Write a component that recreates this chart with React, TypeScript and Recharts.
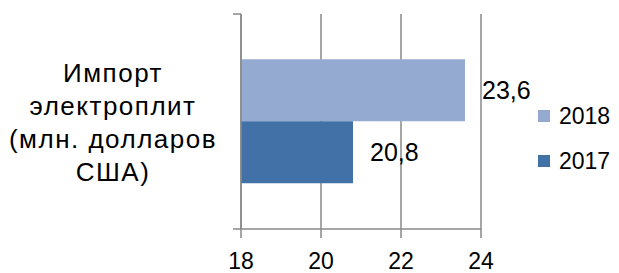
import React from 'react';
import { BarChart, Bar, XAxis, YAxis, CartesianGrid, Legend, LabelList } from 'recharts';

const categories = ['Импорт электроплит (млн. долларов США)'];
const categoryLines = [['Импорт', 'электроплит', '(млн. долларов', 'США)']];
const values2018 = [23.6];
const values2017 = [20.8];
const seriesNames = ['2018', '2017'];
const xTicks = [18, 20, 22, 24];
const xDomain = [18, 24];

const data = categories.map((name, i) => ({
  name,
  y2018: values2018[i],
  y2017: values2017[i],
}));

const LIGHT = '#95AAD0';
const DARK = '#4271A7';
const GRAY = '#888888';

const CategoryTick = (props: any) => {
  const { x, y, payload, index } = props;
  const lines = categoryLines[index] || [payload.value];
  const spacing = 33;
  const half = payload && payload.offset ? payload.offset : 0;
  return (
    <g>
      {half > 0 && (
        <g stroke={GRAY} strokeWidth={1.5}>
          <line x1={x} x2={x + 8} y1={y - half} y2={y - half} />
          <line x1={x} x2={x + 8} y1={y + half} y2={y + half} />
        </g>
      )}
      {lines.map((l: string, i: number) => (
        <text
          key={i}
          x={x - 120}
          y={y + 9.5 + (i - (lines.length - 1) / 2) * spacing}
          textAnchor="middle"
          fontFamily="Liberation Sans, Arial"
          fontSize={26}
          letterSpacing={1.5}
          fill="#000"
        >
          {l}
        </text>
      ))}
    </g>
  );
};

const LegendContent = (props: any) => {
  const payload = [...(props.payload || [])].sort(
    (a: any, b: any) => seriesNames.indexOf(a.value) - seriesNames.indexOf(b.value)
  );
  return (
    <div style={{ paddingLeft: 57, paddingTop: 4 }}>
      {payload.map((p: any, i: number) => (
        <div key={i} style={{ height: 45, display: 'flex', alignItems: 'center' }}>
          <span style={{ display: 'inline-block', width: 12, height: 12, background: p.color, marginRight: 9 }} />
          <span style={{ fontFamily: 'Liberation Sans, Arial', fontSize: 23, color: '#000', lineHeight: '23px' }}>{p.value}</span>
        </div>
      ))}
    </div>
  );
};

const fmt = (v: any) => String(v).replace('.', ',');

export default function App() {
  return (
    <div style={{ position: 'absolute', left: 0, top: 0, background: '#fff' }}>
      <BarChart
        width={619}
        height={273}
        data={data}
        layout="vertical"
        margin={{ top: 14, right: 0, bottom: 0, left: 0 }}
        barCategoryGap="21%"
        barGap={0}
      >
        <CartesianGrid horizontal={false} vertical={true} stroke={GRAY} strokeWidth={1.5} />
        <XAxis
          type="number"
          domain={xDomain}
          ticks={xTicks}
          height={44}
          axisLine={{ stroke: GRAY, strokeWidth: 1.5 }}
          tickLine={{ stroke: GRAY, strokeWidth: 1.5 }}
          tickSize={9}
          tickMargin={15}
          tick={{ fontFamily: 'Liberation Sans, Arial', fontSize: 23, fill: '#000' }}
          allowDataOverflow
        />
        <YAxis
          type="category"
          dataKey="name"
          width={241}
          axisLine={{ stroke: GRAY, strokeWidth: 1.5 }}
          tickLine={false}
          tickSize={8}
          tickMargin={0}
          tick={<CategoryTick />}
        />
        <Legend
          layout="vertical"
          align="right"
          verticalAlign="middle"
          width={138}
          content={<LegendContent />}
        />
        <Bar dataKey="y2018" name={seriesNames[0]} fill={LIGHT} isAnimationActive={false}>
          <LabelList dataKey="y2018" position="right" offset={17} formatter={fmt} style={{ fontFamily: 'Liberation Sans, Arial', fontSize: 25, fill: '#000' }} />
        </Bar>
        <Bar dataKey="y2017" name={seriesNames[1]} fill={DARK} isAnimationActive={false}>
          <LabelList dataKey="y2017" position="right" offset={17} formatter={fmt} style={{ fontFamily: 'Liberation Sans, Arial', fontSize: 25, fill: '#000' }} />
        </Bar>
      </BarChart>
    </div>
  );
}
